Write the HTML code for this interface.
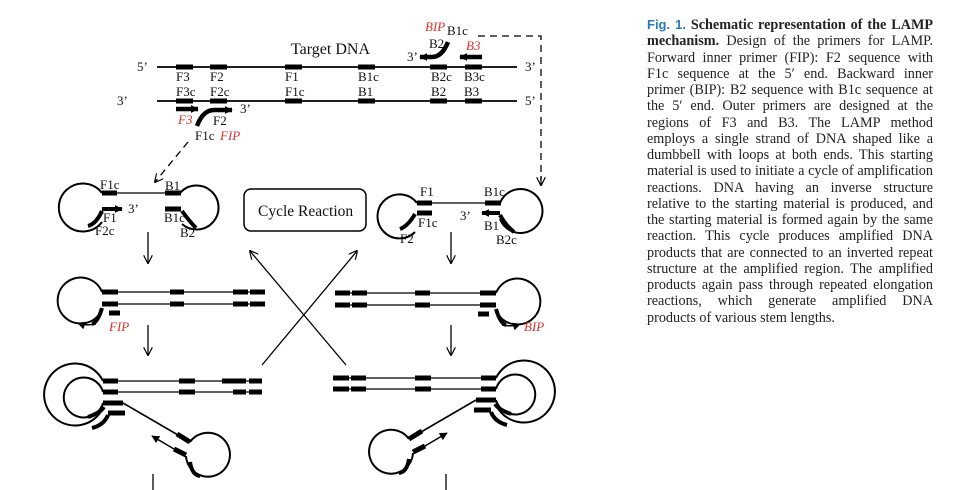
<!DOCTYPE html>
<html><head><meta charset="utf-8"><style>
body{margin:0;background:#fff;width:971px;height:490px;overflow:hidden;position:relative}
svg{position:absolute;left:0;top:0}
.cap{position:absolute;left:647px;top:17px;width:286px;font-family:"Liberation Serif",serif;font-size:14.2px;line-height:16.25px;color:#222;text-align:justify}
.cap .f{font-family:"Liberation Sans",sans-serif;color:#2a7ab8;font-weight:bold;font-size:13px}
</style></head><body>
<svg width="971" height="490" viewBox="0 0 971 490" font-family="Liberation Serif, serif" font-size="13">
<defs>
<marker id="ah" viewBox="0 0 10 10" refX="9" refY="5" markerWidth="9" markerHeight="9" orient="auto" markerUnits="userSpaceOnUse"><path d="M0,0L10,5L0,10" fill="none" stroke="#000" stroke-width="1.3"/></marker>
<marker id="fa" viewBox="0 0 10 10" refX="9" refY="5" markerWidth="8" markerHeight="8" orient="auto" markerUnits="userSpaceOnUse"><path d="M0,0L10,5L0,10z" fill="#000"/></marker>
</defs>
<g stroke="#000" fill="none">
<line x1="157" y1="67" x2="517" y2="67" stroke-width="1.8"/>
<line x1="157" y1="101" x2="517" y2="101" stroke-width="1.8"/>
<g stroke-width="5">
<path d="M176 67h17M210 67h17M285 67h17M358 67h17M430 67h17M465 67h17"/>
<path d="M176 101h17M210 101h17M285 101h17M358 101h17M430 101h17M465 101h17"/>
</g>
<path d="M176 109h22" stroke-width="4.5" marker-end="url(#fa)"/>
<path d="M197 126 Q203 110 214 110 H232" stroke-width="4.5" marker-end="url(#fa)"/>
<path d="M482 57h-22" stroke-width="4.5" marker-end="url(#fa)"/>
<path d="M448 42 Q442 57 432 57 H420" stroke-width="4.5" marker-end="url(#fa)"/>
<path d="M478 36H541V180" stroke-width="1.3" stroke-dasharray="7,5"/>
<path d="M541 176v9" stroke-width="1.3" marker-end="url(#ah)"/>
<path d="M188 142L155 182" stroke-width="1.3" stroke-dasharray="7,5" marker-end="url(#ah)"/>

<g stroke-width="2">
<path d="M102 193 A24 24 0 1 0 102 222"/>
<path d="M180 193 A22 22 0 1 1 182 224"/>
</g>
<line x1="102" y1="193" x2="180" y2="193" stroke-width="1.3"/>
<path d="M102 193h15M165 193h16M165 209h16" stroke-width="5"/>
<path d="M102 209h20" stroke-width="4" marker-end="url(#fa)"/>
<path d="M88 226 Q96 224 102 211" stroke-width="4"/>
<path d="M182 211 Q190 222 196 228" stroke-width="4"/>
<g stroke-width="2">
<path d="M417 203 A22 22 0 1 0 415 232"/>
<path d="M500 203 A22 22 0 1 1 500 219"/>
</g>
<line x1="417" y1="203" x2="500" y2="203" stroke-width="1.3"/>
<path d="M417 203h15M485 203h16M417 213h15" stroke-width="5"/>
<path d="M500 213h-18" stroke-width="4" marker-end="url(#fa)"/>
<path d="M415 214 Q408 226 400 229" stroke-width="4"/>
<path d="M500 215 Q506 226 514 232" stroke-width="4"/>

<rect x="244" y="189" width="122" height="42" rx="7" stroke-width="1.5"/>

<g stroke-width="1.3" marker-end="url(#ah)">
<line x1="148" y1="232" x2="148" y2="263"/>
<line x1="451" y1="232" x2="451" y2="263"/>
<line x1="148" y1="325" x2="148" y2="355"/>
<line x1="451" y1="325" x2="451" y2="355"/>
<line x1="262" y1="365" x2="357" y2="251"/>
<line x1="346" y1="365" x2="250" y2="251"/>
</g>

<g>
<path d="M102 292 A23 23 0 1 0 100 313" stroke-width="2"/>
<path d="M102 292H265M102 304H265" stroke-width="1.3"/>
<path d="M102 292h16M170 292h14M233 292h15M250 292h15M102 304h16M170 304h14M233 304h15M250 304h15M109 313h11" stroke-width="5"/>
<path d="M102 308 Q98 322 92 324" stroke-width="4"/>
</g>
<path d="M96 324 Q86 326 78 323" stroke-width="1.5" marker-end="url(#fa)"/>
<g transform="translate(598,1) scale(-1,1)">
<path d="M102 292 A23 23 0 1 0 100 313" stroke-width="2"/>
<path d="M102 292H263M102 304H263" stroke-width="1.3"/>
<path d="M102 292h16M168 292h15M231 292h15M248 292h15M102 304h16M168 304h15M231 304h15M248 304h15M109 313h11" stroke-width="5"/>
<path d="M102 308 Q98 322 92 324" stroke-width="4"/>
<path d="M96 324 Q86 326 78 323" stroke-width="1.5" marker-end="url(#fa)"/>
</g>

<g>
<path d="M103 381 A31 31 0 1 0 103 408" stroke-width="2"/>
<path d="M103 392 A20 20 0 1 0 103 403" stroke-width="2"/>
<path d="M103 381H262M103 392H262" stroke-width="1.3"/>
<path d="M103 381h15M179 381h16M222 381h13M233 381h13M249 381h13M103 392h15M179 392h16M233 392h13M249 392h13M103 403h20M108 413h17" stroke-width="5"/>
<path d="M88 417 Q100 413 104 407" stroke-width="4"/>
<path d="M92 428 Q104 425 108 415" stroke-width="4"/>
<path d="M123 403 L190 442" stroke-width="1.6"/>
<path d="M177 434 L190 442" stroke-width="5"/>
<path d="M190 442 A22 22 0 1 1 186 456" stroke-width="2"/>
<path d="M186 455 L174 449" stroke-width="5"/>
<path d="M174 449 L152 436" stroke-width="1.5" marker-end="url(#fa)"/>
<path d="M190 462 Q192 475 200 476" stroke-width="4"/>
<line x1="153" y1="474" x2="153" y2="490" stroke-width="1.3"/>
</g>
<g transform="translate(599,-3) scale(-1,1)">
<path d="M103 381 A31 31 0 1 0 103 408" stroke-width="2"/>
<path d="M103 392 A20 20 0 1 0 103 403" stroke-width="2"/>
<path d="M103 381H266M103 392H266" stroke-width="1.3"/>
<path d="M103 381h15M168 381h16M233 381h15M250 381h16M103 392h15M168 392h16M233 392h15M250 392h16M103 403h20M108 413h17" stroke-width="5"/>
<path d="M88 417 Q100 413 104 407" stroke-width="4"/>
<path d="M92 428 Q104 425 108 415" stroke-width="4"/>
<path d="M123 403 L190 442" stroke-width="1.6"/>
<path d="M177 434 L190 442" stroke-width="5"/>
<path d="M190 442 A22 22 0 1 1 186 456" stroke-width="2"/>
<path d="M186 455 L174 449" stroke-width="5"/>
<path d="M174 449 L152 436" stroke-width="1.5" marker-end="url(#fa)"/>
<path d="M190 462 Q192 475 200 476" stroke-width="4"/>
<line x1="153" y1="477" x2="153" y2="493" stroke-width="1.3"/>
</g>
</g>

<g fill="#111">
<text x="291" y="54" font-size="16">Target DNA</text>
<text x="137" y="71">5’</text><text x="525" y="71">3’</text>
<text x="117" y="105">3’</text><text x="525" y="105">5’</text>
<text x="176" y="81">F3</text><text x="210" y="81">F2</text><text x="285" y="81">F1</text><text x="358" y="81">B1c</text><text x="431" y="81">B2c</text><text x="464" y="81">B3c</text>
<text x="176" y="96">F3c</text><text x="210" y="96">F2c</text><text x="285" y="96">F1c</text><text x="358" y="96">B1</text><text x="431" y="96">B2</text><text x="464" y="96">B3</text>
<text x="240" y="113">3’</text><text x="213" y="125">F2</text><text x="195" y="140">F1c</text>
<text x="407" y="61">3’</text><text x="429" y="48">B2</text><text x="447" y="35">B1c</text>
<text x="100" y="189">F1c</text><text x="165" y="190">B1</text><text x="128" y="213">3’</text><text x="103" y="222">F1</text><text x="95" y="235">F2c</text><text x="164" y="222">B1c</text><text x="180" y="237">B2</text>
<text x="420" y="196">F1</text><text x="484" y="196">B1c</text><text x="460" y="220">3’</text><text x="418" y="227">F1c</text><text x="484" y="230">B1</text><text x="400" y="243">F2</text><text x="496" y="244">B2c</text>
<text x="258" y="216" font-size="15.5">Cycle Reaction</text>
</g>
<g fill="#d9302a" font-style="italic">
<text x="178" y="124">F3</text><text x="220" y="140">FIP</text>
<text x="425" y="31">BIP</text><text x="466" y="50">B3</text>
<text x="109" y="331">FIP</text><text x="524" y="331">BIP</text>
</g>
</svg>
<div class="cap"><span class="f">Fig. 1.</span> <b>Schematic representation of the LAMP mechanism.</b> Design of the primers for LAMP. Forward inner primer (FIP): F2 sequence with F1c sequence at the 5′ end. Backward inner primer (BIP): B2 sequence with B1c sequence at the 5′ end. Outer primers are designed at the regions of F3 and B3. The LAMP method employs a single strand of DNA shaped like a dumbbell with loops at both ends. This starting material is used to initiate a cycle of amplification reactions. DNA having an inverse structure relative to the starting material is produced, and the starting material is formed again by the same reaction. This cycle produces amplified DNA products that are connected to an inverted repeat structure at the amplified region. The amplified products again pass through repeated elongation reactions, which generate amplified DNA products of various stem lengths.</div>
</body></html>
